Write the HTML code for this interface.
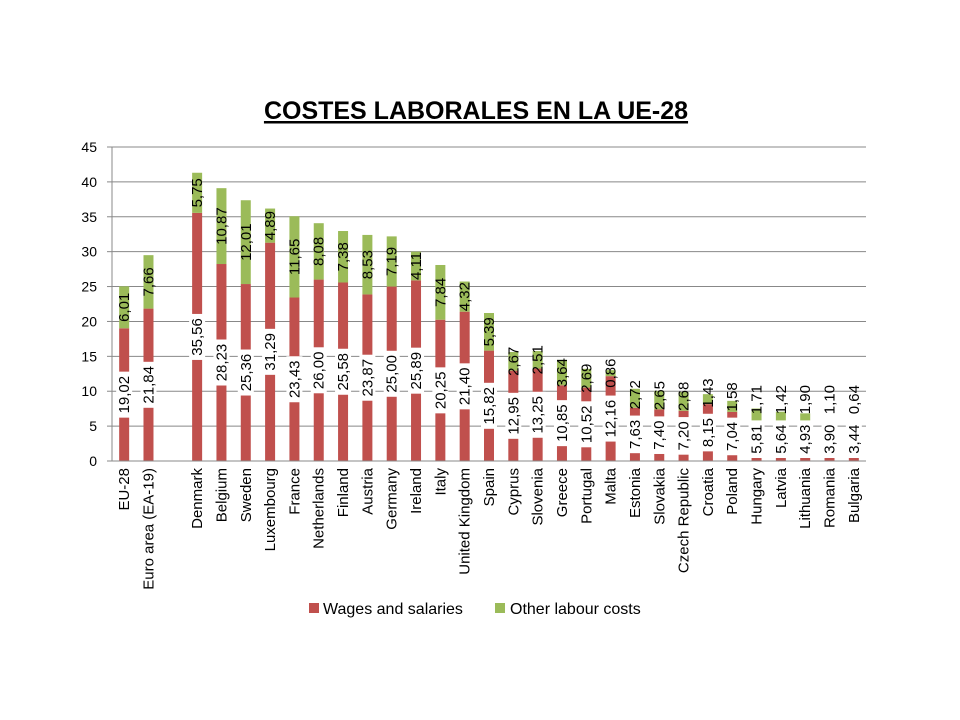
<!DOCTYPE html>
<html><head><meta charset="utf-8"><style>
body{margin:0;background:#fff;}
svg{display:block;font-family:"Liberation Sans",sans-serif;}
</style></head><body>
<svg id="c" width="960" height="720"></svg>
<script>
const categories=["EU-28","Euro area (EA-19)","","Denmark","Belgium","Sweden","Luxembourg","France","Netherlands","Finland","Austria","Germany","Ireland","Italy","United Kingdom","Spain","Cyprus","Slovenia","Greece","Portugal","Malta","Estonia","Slovakia","Czech Republic","Croatia","Poland","Hungary","Latvia","Lithuania","Romania","Bulgaria"];
const wages=[19.02,21.84,null,35.56,28.23,25.36,31.29,23.43,26.00,25.58,23.87,25.00,25.89,20.25,21.40,15.82,12.95,13.25,10.85,10.52,12.16,7.63,7.40,7.20,8.15,7.04,5.81,5.64,4.93,3.90,3.44];
const other=[6.01,7.66,null,5.75,10.87,12.01,4.89,11.65,8.08,7.38,8.53,7.19,4.11,7.84,4.32,5.39,2.67,2.51,3.64,2.69,0.86,2.72,2.65,2.68,1.43,1.58,1.71,1.42,1.90,1.10,0.64];
const yTicks=[0,5,10,15,20,25,30,35,40,45];
const NS="http://www.w3.org/2000/svg";
const svg=document.getElementById('c');
const X0=112,X1=866,Y0=461,Y1=147,YMAX=45;
const bw=(X1-X0)/categories.length;
const y=v=>Y0-(v/YMAX)*(Y0-Y1);
const xc=i=>X0+(i+0.5)*bw;
function el(t,a,txt){const e=document.createElementNS(NS,t);for(const k in a)e.setAttribute(k,a[k]);if(txt!==undefined)e.textContent=txt;svg.appendChild(e);return e;}
const fmt=v=>v.toFixed(2).replace('.',',');
let t=el('text',{x:476,y:119,'text-anchor':'middle','font-size':25,'font-weight':'bold','text-decoration':'underline'},'COSTES LABORALES EN LA UE-28');


yTicks.forEach(v=>{
 const g=el('line',{x1:X0,x2:X1,y1:y(v),y2:y(v),stroke:'#888','stroke-width':1});
 
 
 const l=el('line',{x1:X0-5,x2:X0,y1:y(v),y2:y(v),stroke:'#888'});
 
 
 const tx=el('text',{x:X0-15,y:y(v)+5,'text-anchor':'end','font-size':14},String(v));
 
 
});
const ax=el('line',{x1:X0,x2:X0,y1:Y1,y2:Y0,stroke:'#888'});


const labels=[];
const half=s=>s.length*4.2+2;
categories.forEach((c,i)=>{
 const cx=xc(i);
 if(c){
  const cl=el('text',{x:cx+5,y:468,'text-anchor':'end','font-size':15,transform:`rotate(-90 ${cx+5} 468)`},c);
  
  
 }
 if(wages[i]==null)return;
 const w=wages[i],o=other[i];
 const r1=el('rect',{x:cx-5,y:y(w),width:10,height:Y0-y(w),fill:'#C0504D'});
 
 
 const r2=el('rect',{x:cx-5,y:y(w+o),width:10,height:y(w)-y(w+o),fill:'#9BBB59'});
 
 
 const s1=fmt(w),s2=fmt(o);
 const c1=Math.min(y(w/2),Y0-half(s1)-3);
 const c2=Math.min(y(w+o/2),c1-half(s1)-half(s2)-2);
 labels.push([cx,c1,s1,true],[cx,c2,s2,false]);
});
labels.forEach(([cx,cy,s,bgOn])=>{
 if(bgOn){
  const h=half(s);
  const bg=el('rect',{x:cx-8,y:cy-h,width:16,height:2*h,fill:'#fff'});
  
  
 }
 const tx=el('text',{x:cx+5,y:cy,'text-anchor':'middle','font-size':15,transform:`rotate(-90 ${cx+5} ${cy})`},s);
 
 
});
const bx=el('line',{x1:X0,x2:X1,y1:Y0,y2:Y0,stroke:'#888'});


let lg=el('rect',{x:309,y:603,width:10,height:10,fill:'#C0504D'});


lg=el('text',{x:323,y:614,'font-size':16},'Wages and salaries');


lg=el('rect',{x:495,y:603,width:10,height:10,fill:'#9BBB59'});


lg=el('text',{x:510,y:614,'font-size':16},'Other labour costs');


</script>
</body></html>
